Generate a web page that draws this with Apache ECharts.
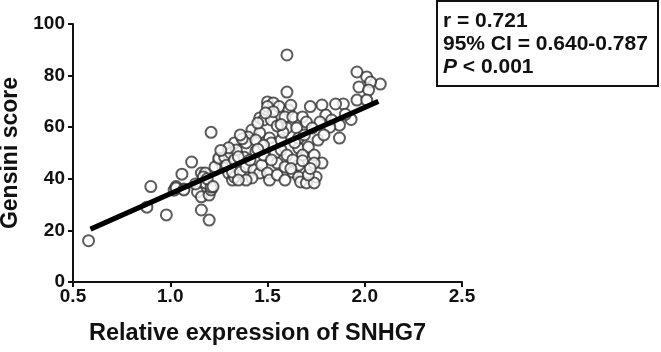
<!DOCTYPE html>
<html>
<head>
<meta charset="utf-8">
<script src="https://cdn.jsdelivr.net/npm/echarts@6/dist/echarts.min.js"></script>
<style>
  html, body { margin: 0; padding: 0; background: #fff; }
  #chart { width: 661px; height: 352px; }
</style>
</head>
<body>
<div id="chart"></div>
<script>
// relative expression of SNHG7 vs Gensini score
var snhg7 = [
  0.58, 0.88, 0.90, 0.98, 1.02, 1.03, 1.06, 1.07, 1.11, 1.16, 1.20, 1.21,
  1.16, 1.18, 1.03, 1.07, 1.14, 1.16, 1.20, 1.21, 1.25, 1.27, 1.30, 1.32,
  1.17, 1.18, 1.21, 1.13, 1.19, 1.22, 1.23, 1.25, 1.28, 1.29, 1.31, 1.33,
  1.33, 1.32, 1.36, 1.39, 1.43, 1.46, 1.47, 1.50, 1.51, 1.55, 1.59, 1.42,
  1.39, 1.35, 1.38, 1.41, 1.54, 1.48, 1.55, 1.59, 1.52, 1.63, 1.66, 1.75,
  1.67, 1.70, 1.74, 1.71, 1.33, 1.34, 1.57, 1.60, 1.66, 1.71, 1.74, 1.68,
  1.78, 1.74, 1.66, 1.63, 1.42, 1.40, 1.39, 1.51, 1.52, 1.57, 1.46, 1.30,
  1.50, 1.53, 1.56, 1.50, 1.61, 1.59, 1.63, 1.46, 1.48, 1.45, 1.52, 1.68,
  1.70, 1.60, 1.65, 1.44, 1.37, 1.60, 1.60, 1.96, 2.01, 2.08, 2.03, 1.97,
  2.02, 1.96, 2.01, 1.93, 1.87, 1.89, 1.85, 1.78, 1.72, 1.80, 1.83, 1.87,
  1.77, 1.73, 1.66, 1.82, 1.26, 1.35, 1.44, 1.48, 1.36, 1.58, 1.64, 1.69,
  1.76, 1.62, 1.72, 1.55, 1.45, 1.90, 1.79, 1.68, 1.53, 1.57, 1.49, 1.62
];
var gensini = [
  16.0, 29.0, 37.0, 26.0, 35.6, 37.0, 41.8, 36.0, 46.5, 27.9, 24.0, 58.0,
  42.2, 42.2, 36.4, 35.7, 34.9, 33.0, 33.7, 35.7, 47.3, 44.6, 42.2, 39.5,
  40.7, 38.4, 36.8, 38.0, 40.0, 37.0, 44.6, 48.0, 48.4, 45.3, 50.0, 40.7,
  47.3, 42.6, 42.6, 44.6, 43.4, 42.2, 45.3, 42.2, 39.5, 41.5, 39.5, 40.3,
  39.5, 39.5, 48.4, 47.3, 50.0, 49.2, 46.1, 44.6, 47.3, 42.6, 40.7, 40.7,
  38.8, 38.4, 38.4, 41.5, 53.9, 51.2, 51.2, 49.2, 51.9, 52.3, 49.2, 49.2,
  46.1, 46.1, 45.3, 47.3, 58.9, 56.2, 53.9, 55.8, 53.9, 55.0, 57.8, 52.0,
  69.8, 69.4, 68.0, 68.0, 66.7, 64.0, 64.0, 63.6, 62.8, 61.6, 62.8, 64.0,
  62.0, 59.7, 59.7, 55.0, 55.5, 88.0, 73.6, 81.4, 79.5, 76.7, 77.5, 75.6,
  74.4, 70.5, 70.5, 63.0, 55.8, 69.0, 69.0, 68.6, 68.0, 64.7, 62.8, 60.8,
  62.0, 59.7, 55.8, 60.0, 51.0, 48.5, 50.5, 53.0, 57.0, 58.0, 54.0, 57.0,
  55.0, 44.0, 44.0, 60.5, 51.5, 65.0, 57.0, 47.0, 66.0, 61.0, 65.5, 68.5
];
// fitted regression line end points
var fitX = [0.59, 2.07];
var fitY = [20.5, 70.0];

var xTicks = ['0.5', '1.0', '1.5', '2.0', '2.5'];
var statLines = ['r = 0.721', '95% CI = 0.640-0.787', '< 0.001'];

var points = snhg7.map(function (v, i) { return [v, gensini[i]]; });
var fitLine = fitX.map(function (v, i) { return [v, fitY[i]]; });

var labelFont = {
  fontFamily: 'Liberation Sans, Arial, sans-serif',
  fontWeight: 'bold',
  color: '#111'
};

var chart = echarts.init(document.getElementById('chart'));
chart.setOption({
  animation: false,
  backgroundColor: '#fff',
  grid: { left: 73, right: 199, top: 24, bottom: 70, outerBoundsMode: 'none', containLabel: false },
  xAxis: {
    type: 'value',
    min: 0.5, max: 2.5, interval: 0.5,
    name: 'Relative expression of SNHG7',
    nameLocation: 'middle',
    nameGap: 40,
    nameTextStyle: Object.assign({ fontSize: 23.5, padding: [0, 20, 0, 0] }, labelFont),
    axisLine: { lineStyle: { color: '#111', width: 2 } },
    axisTick: { length: 5, lineStyle: { color: '#111', width: 2 } },
    axisLabel: Object.assign({
      fontSize: 19, margin: 5,
      formatter: function (v) { return xTicks[Math.round((v - 0.5) / 0.5)]; }
    }, labelFont),
    splitLine: { show: false }
  },
  yAxis: {
    type: 'value',
    min: 0, max: 100, interval: 20,
    name: 'Gensini score',
    nameLocation: 'middle',
    nameGap: 51,
    nameTextStyle: Object.assign({ fontSize: 23 }, labelFont),
    axisLine: { show: true, lineStyle: { color: '#111', width: 2 } },
    axisTick: { show: true, length: 5, lineStyle: { color: '#111', width: 2 } },
    axisLabel: Object.assign({ fontSize: 19, margin: 8 }, labelFont),
    splitLine: { show: false }
  },
  series: [
    {
      type: 'scatter',
      data: points,
      symbol: 'emptyCircle',
      symbolSize: 11,
      itemStyle: { color: '#333', borderColor: '#333', borderWidth: 2.5 },
      z: 2
    },
    {
      type: 'line',
      data: fitLine,
      symbol: 'none',
      lineStyle: { color: '#000', width: 5 },
      z: 3
    }
  ],
  graphic: [
    {
      type: 'rect',
      shape: { x: 437, y: 1, width: 221, height: 85 },
      style: { fill: '#fff', stroke: '#111', lineWidth: 2 }
    },
    {
      type: 'text', left: 443, top: 11,
      style: Object.assign({ text: statLines[0], fontSize: 21, fill: '#111' }, labelFont)
    },
    {
      type: 'text', left: 443, top: 34,
      style: Object.assign({ text: statLines[1], fontSize: 21, fill: '#111' }, labelFont)
    },
    {
      type: 'text', left: 443, top: 57,
      style: Object.assign({
        text: '{i|P} ' + statLines[2], fontSize: 21, fill: '#111',
        rich: { i: { fontStyle: 'italic', fontWeight: 'bold', fontSize: 21,
          fontFamily: 'Liberation Sans, Arial, sans-serif', fill: '#111' } }
      }, labelFont)
    }
  ]
});
</script>
</body>
</html>
